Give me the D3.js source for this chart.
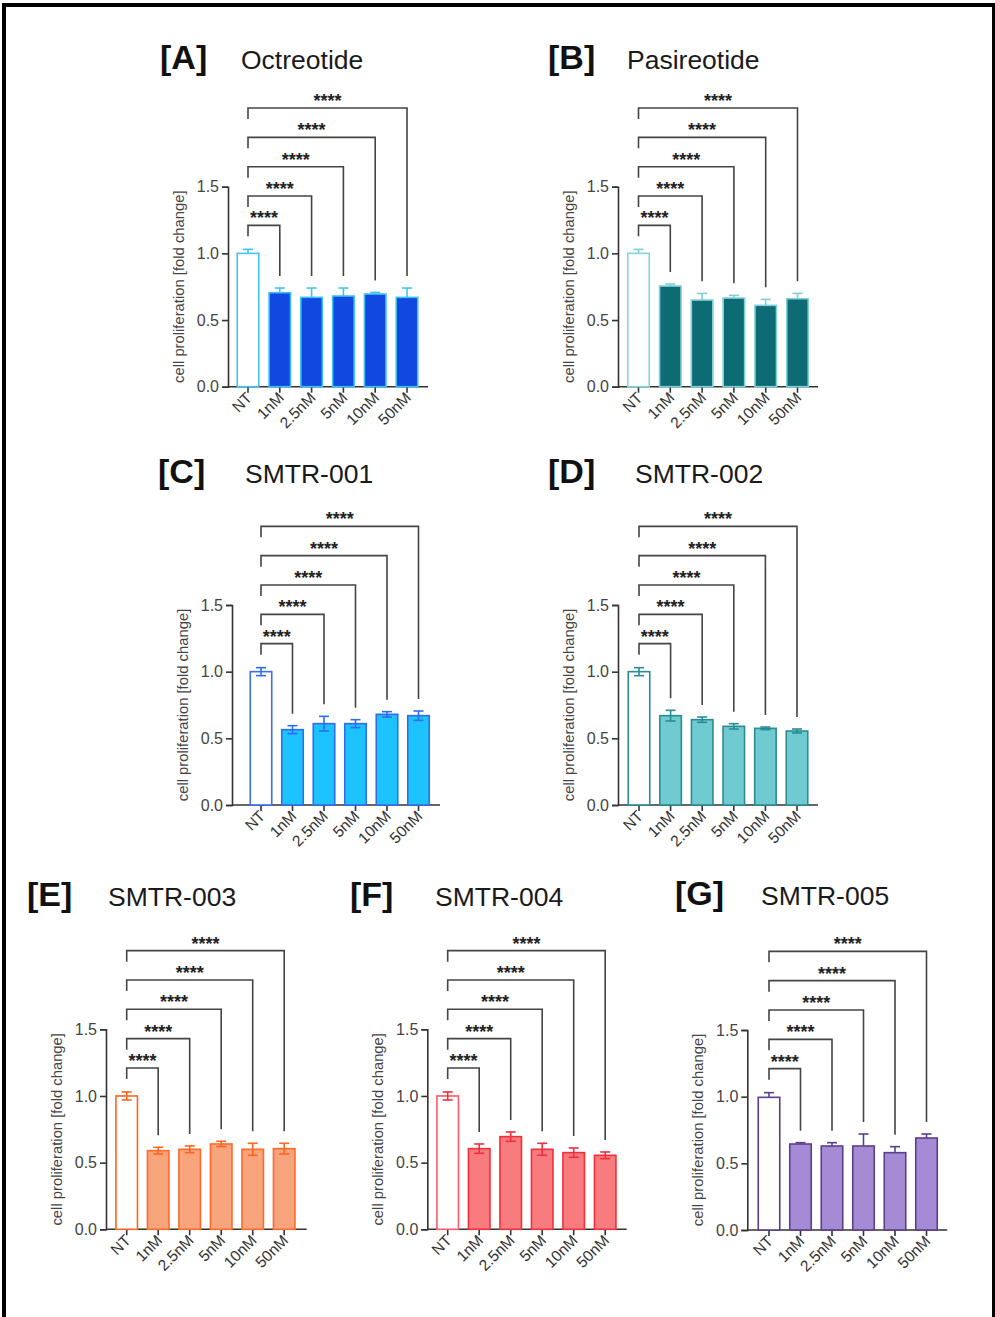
<!DOCTYPE html>
<html>
<head>
<meta charset="utf-8">
<script src="https://cdn.jsdelivr.net/npm/d3@7"></script>
<style>
  body { margin: 0; background: #fff; }
  text { font-family: "Liberation Sans", Arial, sans-serif; }
</style>
</head>
<body>
<div id="chart"></div>
<script>
// categories and values
const categories = ["NT", "1nM", "2.5nM", "5nM", "10nM", "50nM"];
const yTicks = [0, 0.5, 1.0, 1.5];
const bracketLevels = [1.21, 1.43, 1.65, 1.87, 2.09];
const starLabel = "****";

const octreotideMean = [1.0, 0.705, 0.67, 0.68, 0.695, 0.67];
const octreotideErr  = [0.03, 0.035, 0.07, 0.06, 0.012, 0.07];
const pasireotideMean = [1.0, 0.755, 0.65, 0.665, 0.61, 0.66];
const pasireotideErr  = [0.03, 0.015, 0.05, 0.02, 0.045, 0.04];
const smtr001Mean = [1.0, 0.565, 0.61, 0.61, 0.68, 0.67];
const smtr001Err  = [0.03, 0.03, 0.055, 0.03, 0.02, 0.035];
const smtr002Mean = [1.0, 0.67, 0.64, 0.59, 0.575, 0.555];
const smtr002Err  = [0.03, 0.04, 0.02, 0.02, 0.01, 0.015];
const smtr003Mean = [1.0, 0.59, 0.60, 0.64, 0.60, 0.605];
const smtr003Err  = [0.03, 0.025, 0.025, 0.02, 0.045, 0.04];
const smtr004Mean = [1.0, 0.605, 0.695, 0.60, 0.575, 0.555];
const smtr004Err  = [0.03, 0.035, 0.035, 0.045, 0.035, 0.025];
const smtr005Mean = [0.995, 0.645, 0.63, 0.63, 0.58, 0.69];
const smtr005Err  = [0.035, 0.01, 0.025, 0.09, 0.045, 0.03];

// panel layout + colours
const panels = [
  { tag: "[A]", title: "Octreotide", mean: octreotideMean, err: octreotideErr, both: false,
    tagX: 160, titleX: 241, base: 69, ax: 228, y0: 386.7, c0: 248, step: 31.8, axEnd: 428,
    nt: "#40c4f4", fill: "#1148e0", stroke: "#3cc0f4", eb: "#40c4f4" },
  { tag: "[B]", title: "Pasireotide", mean: pasireotideMean, err: pasireotideErr, both: false,
    tagX: 548, titleX: 627, base: 69, ax: 618, y0: 386.7, c0: 638.5, step: 31.8, axEnd: 818,
    nt: "#86d3da", fill: "#0e6b74", stroke: "#7fd0d8", eb: "#7fd0d8" },
  { tag: "[C]", title: "SMTR-001", mean: smtr001Mean, err: smtr001Err, both: true,
    tagX: 158, titleX: 245, base: 483, ax: 232, y0: 805, c0: 261, step: 31.5, axEnd: 440,
    nt: "#3a6ff0", fill: "#1dc3ff", stroke: "#2f6cf0", eb: "#2f6cf0" },
  { tag: "[D]", title: "SMTR-002", mean: smtr002Mean, err: smtr002Err, both: true,
    tagX: 548, titleX: 635, base: 483, ax: 618, y0: 805, c0: 639, step: 31.6, axEnd: 818,
    nt: "#2a8c95", fill: "#6fcbd0", stroke: "#2a8c95", eb: "#2a8c95" },
  { tag: "[E]", title: "SMTR-003", mean: smtr003Mean, err: smtr003Err, both: true,
    tagX: 27, titleX: 108, base: 906, ax: 106, y0: 1229.3, c0: 126.7, step: 31.5, axEnd: 306.7,
    nt: "#ff6420", fill: "#f8a47c", stroke: "#ff6a2a", eb: "#ff6420" },
  { tag: "[F]", title: "SMTR-004", mean: smtr004Mean, err: smtr004Err, both: true,
    tagX: 350, titleX: 435, base: 906, ax: 427.3, y0: 1229.3, c0: 447.7, step: 31.5, axEnd: 626.7,
    nt: "#ff5a6a", fill: "#f87b7e", stroke: "#f0303c", eb: "#f0303c" },
  { tag: "[G]", title: "SMTR-005", mean: smtr005Mean, err: smtr005Err, both: false,
    tagX: 675, titleX: 761, base: 905, ax: 747.3, y0: 1230, c0: 769, step: 31.5, axEnd: 947.3,
    nt: "#5b3f8f", fill: "#a58bd4", stroke: "#5b3f8f", eb: "#5b3f8f" }
];

const width = 995, height = 1317;
const svg = d3.select("#chart").append("svg")
  .attr("width", width)
  .attr("height", height);

// outer frame
svg.append("rect")
  .attr("x", 4).attr("y", 5)
  .attr("width", 990).attr("height", 1340)
  .attr("fill", "none")
  .attr("stroke", "#000")
  .attr("stroke-width", 4);

const barW = 21.5;

panels.forEach(p => {
  const g = svg.append("g");
  const y = d3.scaleLinear().domain([0, 1.5]).range([p.y0, p.y0 - 200]);
  const x = d3.scalePoint().domain(categories).range([p.c0, p.c0 + 5 * p.step]);
  const rows = categories.map((c, i) => ({ cat: c, mean: p.mean[i], err: p.err[i], i: i }));

  // headings
  g.append("text").attr("x", p.tagX).attr("y", p.base)
    .attr("font-size", 34).attr("font-weight", "bold").attr("fill", "#111")
    .text(p.tag);
  g.append("text").attr("x", p.titleX).attr("y", p.base)
    .attr("font-size", 26.5).attr("fill", "#1a1a1a")
    .text(p.title);

  // y axis
  const yAxis = g.append("g")
    .attr("transform", `translate(${p.ax},0)`)
    .call(d3.axisLeft(y).tickValues(yTicks).tickFormat(d3.format(".1f")).tickSize(6).tickPadding(3));
  yAxis.select(".domain").attr("stroke", "#333").attr("stroke-width", 1.6);
  yAxis.selectAll(".tick line").attr("stroke", "#333").attr("stroke-width", 1.6);
  yAxis.selectAll(".tick text").attr("font-size", 16).attr("fill", "#444")
    .attr("font-family", "'Liberation Sans', Arial, sans-serif");

  g.append("text")
    .attr("transform", `translate(${p.ax - 44},${p.y0 - 100}) rotate(-90)`)
    .attr("text-anchor", "middle")
    .attr("font-size", 14.8)
    .attr("fill", "#444")
    .text("cell proliferation [fold change]");

  // x axis
  g.append("line")
    .attr("x1", p.ax).attr("x2", p.axEnd)
    .attr("y1", p.y0).attr("y2", p.y0)
    .attr("stroke", "#333").attr("stroke-width", 1.6);
  g.selectAll(".xtick").data(categories).enter().append("line")
    .attr("x1", d => x(d)).attr("x2", d => x(d))
    .attr("y1", p.y0).attr("y2", p.y0 + 6)
    .attr("stroke", "#333").attr("stroke-width", 1.6);
  g.selectAll(".xlab").data(categories).enter().append("text")
    .attr("transform", d => `translate(${x(d) + 5},${p.y0 + 12}) rotate(-45)`)
    .attr("text-anchor", "end")
    .attr("font-size", 15.5)
    .attr("fill", "#333")
    .text(d => d);

  // bars
  g.selectAll(".bar").data(rows).enter().append("rect")
    .attr("x", d => x(d.cat) - barW / 2)
    .attr("y", d => y(d.mean))
    .attr("width", barW)
    .attr("height", d => p.y0 - y(d.mean))
    .attr("fill", d => d.i === 0 ? "#fff" : p.fill)
    .attr("stroke", d => d.i === 0 ? p.nt : p.stroke)
    .attr("stroke-width", 1.6);

  // error bars
  const eb = g.append("g").attr("stroke", p.eb).attr("stroke-width", 1.6);
  rows.forEach(d => {
    const top = y(d.mean + d.err);
    const bot = p.both ? y(d.mean - d.err) : y(d.mean);
    const cx = x(d.cat);
    eb.append("line").attr("x1", cx).attr("x2", cx).attr("y1", top).attr("y2", bot);
    eb.append("line").attr("x1", cx - 5).attr("x2", cx + 5).attr("y1", top).attr("y2", top);
    if (p.both) {
      eb.append("line").attr("x1", cx - 5).attr("x2", cx + 5).attr("y1", bot).attr("y2", bot);
    }
  });

  // significance brackets NT vs each dose
  const bg = g.append("g");
  rows.slice(1).forEach((d, k) => {
    const ly = y(bracketLevels[k]);
    const xl = x(categories[0]);
    const xr = x(d.cat);
    const rEnd = y(d.mean + d.err) - 12;
    bg.append("path")
      .attr("d", `M${xl},${ly + 11}V${ly}H${xr}V${rEnd}`)
      .attr("fill", "none")
      .attr("stroke", "#444")
      .attr("stroke-width", 1.6);
    bg.append("text")
      .attr("x", (xl + xr) / 2)
      .attr("y", ly - 1)
      .attr("text-anchor", "middle")
      .attr("font-size", 18)
      .attr("font-weight", "bold")
      .attr("fill", "#222")
      .text(starLabel);
  });
});
</script>
</body>
</html>
